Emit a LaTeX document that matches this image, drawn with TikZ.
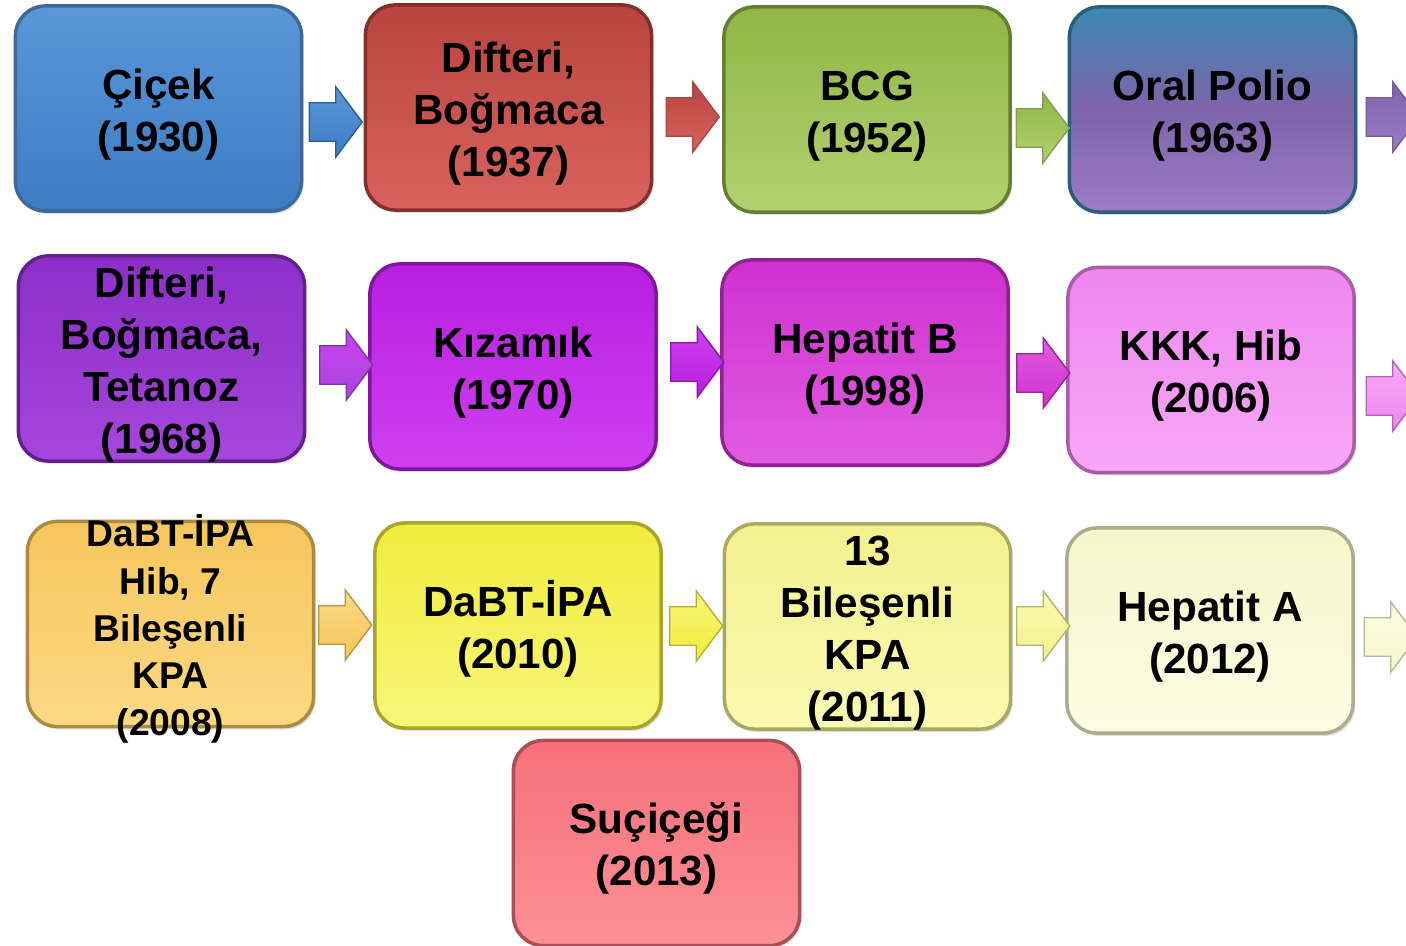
\documentclass[tikz,border=0pt]{standalone}
\usepackage{fontspec}
\setmainfont{Liberation Sans}
\usetikzlibrary{shapes.arrows,shadows}

\definecolor{cicekT}{HTML}{5A97D8}
\definecolor{cicekB}{HTML}{3D7CC4}
\definecolor{difT}{HTML}{B9443F}
\definecolor{difB}{HTML}{D9625E}
\definecolor{bcgT}{HTML}{8FB646}
\definecolor{bcgB}{HTML}{B3D170}
\definecolor{polioT}{HTML}{3C88B0}
\definecolor{polioM}{HTML}{7E64AA}
\definecolor{polioB}{HTML}{9C7CC6}
\definecolor{dbtT}{HTML}{8C2EC8}
\definecolor{dbtB}{HTML}{A547DC}
\definecolor{kizT}{HTML}{B81EE0}
\definecolor{kizB}{HTML}{CE40F0}
\definecolor{hepbT}{HTML}{CF30D0}
\definecolor{hepbB}{HTML}{E05CE0}
\definecolor{kkkT}{HTML}{EE86EE}
\definecolor{kkkB}{HTML}{F8A8F8}
\definecolor{dabtsT}{HTML}{F6C65C}
\definecolor{dabtsB}{HTML}{FCD984}
\definecolor{dabtT}{HTML}{F0EC3C}
\definecolor{dabtB}{HTML}{F8F67A}
\definecolor{kpaT}{HTML}{F3F18E}
\definecolor{kpaB}{HTML}{FAFAB2}
\definecolor{hepaT}{HTML}{F6F6CC}
\definecolor{hepaB}{HTML}{FCFCE4}
\definecolor{sucT}{HTML}{F6707A}
\definecolor{sucB}{HTML}{FC9096}

\newcommand{\topstrut}{\rule{0pt}{12pt}}

\tikzset{vbox/.style 2 args={rectangle, rounded corners=0.3cm,
    minimum width=2.86cm, minimum height=2.05cm, inner sep=0pt,
    top color=#1, bottom color=#2, draw=#1!70!black, line width=1pt,
    drop shadow={opacity=0.25, shadow xshift=0.6pt, shadow yshift=-0.8pt}}}
\tikzset{vtext/.style={align=center, inner sep=0pt,
    font=\bfseries\fontsize{12}{14.8}\selectfont}}
\tikzset{blockarr/.style 2 args={single arrow, single arrow head extend=0.16cm,
    single arrow tip angle=106, minimum height=0.53cm,
    inner xsep=0pt, inner ysep=0.185cm, top color=#1, bottom color=#2,
    draw=#2!75!black, line width=0.4pt}}

\begin{document}
\begin{tikzpicture}[x=0.01cm, y=-0.01cm]
	\useasboundingbox[fill=white] (0,0) rectangle (1406,946);
	
	% first row
	\node[vbox={cicekT}{cicekB}, label={[vtext]center:{\topstrut Çiçek\\(1930)}}] (cicek) at (158.5,108.5) {};
	\node[vbox={difT}{difB}, label={[vtext]center:{\topstrut Difteri,\\Boğmaca\\(1937)}}] (difbog) at (508.5,107.5) {};
	\node[vbox={bcgT}{bcgB}, label={[vtext]center:{\topstrut BCG\\(1952)}}] (bcg) at (867,109.5) {};
	\node[vbox={polioT}{polioB}, middle color=polioM, label={[vtext]center:{\topstrut Oral Polio\\(1963)}}] (polio) at (1212.5,109.5) {};
	
	\node[blockarr={cicekT}{cicekB}] (a1) at (328.5,122) {};
	\node[blockarr={difT}{difB}] (a2) at (685.5,117) {};
	\node[blockarr={bcgT}{bcgB}] (a3) at (1035.5,128) {};
	\node[blockarr={polioM}{polioB}] (a4) at (1385.5,117) {};
	
	% second row
	\node[vbox={dbtT}{dbtB}, label={[vtext]center:{\topstrut Difteri,\\Boğmaca,\\Tetanoz\\(1968)}}] (dbt) at (161.5,358.5) {};
	\node[vbox={kizT}{kizB}, label={[vtext]center:{\topstrut Kızamık\\(1970)}}] (kizamik) at (513,366.5) {};
	\node[vbox={hepbT}{hepbB}, label={[vtext]center:{\topstrut Hepatit B\\(1998)}}] (hepb) at (865,362.5) {};
	\node[vbox={kkkT}{kkkB}, label={[vtext]center:{\topstrut KKK, Hib\\(2006)}}] (kkk) at (1211,370) {};
	
	\node[blockarr={kizB}{dbtB}] (a5) at (339,365) {};
	\node[blockarr={kizB}{kizT}] (a6) at (690,362) {};
	\node[blockarr={hepbB}{hepbT}] (a7) at (1036,373) {};
	\node[blockarr={kkkB}{kkkT}] (a8) at (1385.5,396) {};
	
	% third row
	\node[vbox={dabtsT}{dabtsB}, label={[vtext, font=\bfseries\fontsize{10.6}{13.4}\selectfont]center:{\topstrut DaBT-İPA\\Hib, 7\\Bileşenli\\KPA\\(2008)}}] (dabts) at (170.5,624) {};
	\node[vbox={dabtT}{dabtB}, label={[vtext]center:{\topstrut DaBT-İPA\\(2010)}}] (dabt) at (518,625.5) {};
	\node[vbox={kpaT}{kpaB}, label={[vtext]center:{\topstrut 13\\Bileşenli\\KPA\\(2011)}}] (kpa) at (867.5,626.5) {};
	\node[vbox={hepaT}{hepaB}, label={[vtext]center:{\topstrut Hepatit A\\(2012)}}] (hepa) at (1210,630.5) {};
	
	\node[blockarr={dabtsB}{dabtsT}] (a9) at (338,625) {};
	\node[blockarr={dabtB}{dabtT}] (a10) at (689,626) {};
	\node[blockarr={kpaB}{kpaT}] (a11) at (1036,626) {};
	\node[blockarr={hepaB}{hepaT}] (a12) at (1383.5,637) {};
	
	% last one
	\node[vbox={sucT}{sucB}, label={[vtext]center:{\topstrut Suçiçeği\\(2013)}}] (sucicek) at (656.5,843) {};
\end{tikzpicture}
\end{document}
